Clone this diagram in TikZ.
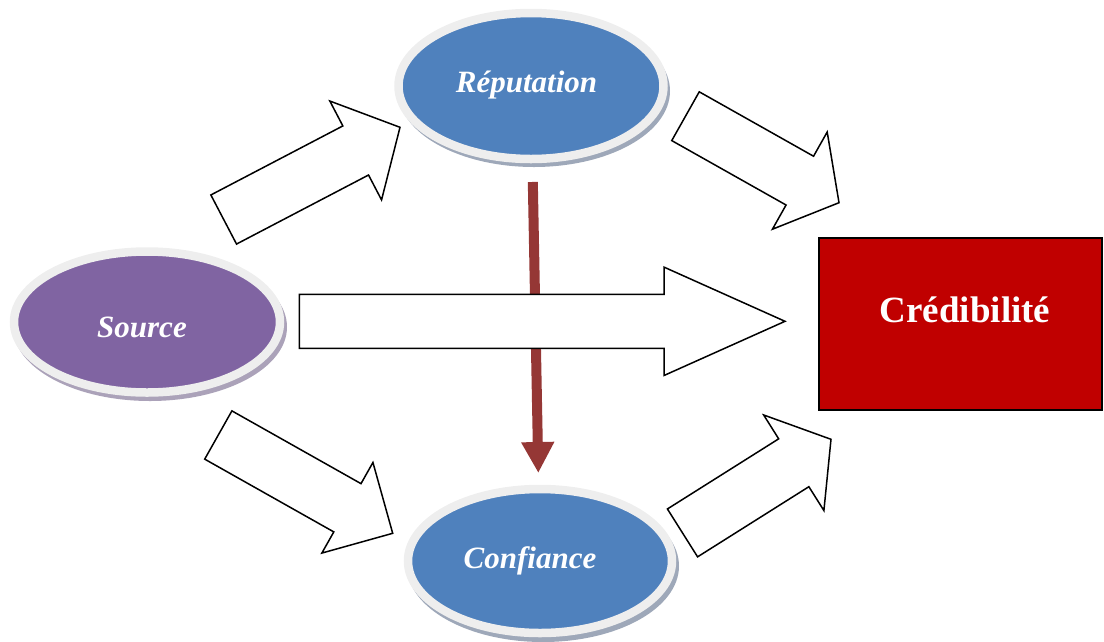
\documentclass[tikz,border=0pt]{standalone}
\usepackage{fontspec}
\setmainfont{Liberation Serif}
\usetikzlibrary{shapes.geometric,arrows.meta,calc,backgrounds}

\definecolor{ringgray}{HTML}{EEEEEE}
\definecolor{nodeblue}{HTML}{4F81BD}
\definecolor{nodepurple}{HTML}{8064A2}
\definecolor{blueshadow}{HTML}{9EA8B9}
\definecolor{purpleshadow}{HTML}{ABA2B9}
\definecolor{credred}{HTML}{C00000}
\definecolor{linkred}{HTML}{953735}

% block arrow from a tail centre to a tip:
% #1 name, #2 tail, #3 tip, #4 head length, #5 shaft half-width, #6 head half-width
\newcommand\blockarr[6]{%
  \coordinate (#1-base) at ($(#3)!#4!(#2)$);
  \draw[blockarrow]
    ($(#2)!#5!90:(#3)$) -- ($(#1-base)!#5!-90:(#2)$) -- ($(#1-base)!#6!-90:(#2)$)
    -- (#3)
    -- ($(#1-base)!#6!90:(#2)$) -- ($(#1-base)!#5!90:(#2)$) -- ($(#2)!#5!-90:(#3)$)
    -- cycle;
}

\begin{document}
\begin{tikzpicture}[x=1pt,y=-1pt,
  bubble/.style={ellipse, draw=ringgray, line width=8.5pt, inner sep=0pt},
  bubbletext/.style={anchor=base, text=white,
    font=\fontsize{31pt}{37pt}\selectfont\bfseries\itshape},
  blockarrow/.style={draw=black, fill=white, line width=1.5pt, line join=miter},
  influence/.style={draw=linkred, line width=10pt,
    -{Triangle[length=31pt,width=31pt]}},
  credbox/.style={rectangle, fill=credred, draw=black, line width=2pt,
    minimum width=283pt, minimum height=172pt},
  credtext/.style={anchor=base, text=white,
    font=\fontsize{37pt}{44pt}\selectfont\bfseries}
]
\useasboundingbox (0,0) rectangle (1104,641);

% the three bubbles
\node[bubble, fill=nodeblue, minimum width=265pt, minimum height=146pt] (rep) at (531,86) {};
\node[bubble, fill=nodepurple, minimum width=266pt, minimum height=141pt] (src) at (147,322) {};
\node[bubble, fill=nodeblue, minimum width=264pt, minimum height=144pt] (conf) at (540,561) {};

% soft shadows under the bubbles
\begin{scope}[on background layer]
  \fill[blueshadow] ($(rep.center)+(3,5)$) ellipse [x radius=136, y radius=76];
  \fill[purpleshadow] ($(src.center)+(3,5)$) ellipse [x radius=137, y radius=74];
  \fill[blueshadow] ($(conf.center)+(3,5)$) ellipse [x radius=136, y radius=76];
\end{scope}

% bubble labels
\node[bubbletext] (replbl) at ($(rep.center)+(-4.5,6)$) {Réputation};
\node[bubbletext] (srclbl) at ($(src.center)+(-5,15)$) {Source};
\node[bubbletext] (conflbl) at ($(conf.center)+(-10,7)$) {Confiance};

% target box
\node[credbox] (cred) at (960.5,324) {};
\node[credtext] (credlbl) at ($(cred.center)+(4.5,-1.3)$) {Crédibilité};

% influence of reputation on trust
\draw[influence, shorten <=96pt, shorten >=88pt] (rep.center) -- (conf.center);

% end points of the block arrows
\coordinate (t1) at (223.7,219.5);  \coordinate (h1) at (400,127.3);
\coordinate (t2) at (685.5,116.2);  \coordinate (h2) at (839,202.7);
\coordinate (t3) at (299.3,321.3);  \coordinate (h3) at (785,321.3);
\coordinate (t4) at (218.3,435);    \coordinate (h4) at (392.7,533.3);
\coordinate (t5) at (682.5,532.9);  \coordinate (h5) at (831,439.3);

\blockarr{a1}{t1}{h1}{50pt}{27.7pt}{55.8pt}
\blockarr{a2}{t2}{h2}{45pt}{28pt}{55.8pt}
\blockarr{a3}{t3}{h3}{121pt}{27pt}{54.2pt}
\blockarr{a4}{t4}{h4}{52pt}{27.7pt}{52pt}
\blockarr{a5}{t5}{h5}{44pt}{28.3pt}{56.5pt}
\end{tikzpicture}
\end{document}
